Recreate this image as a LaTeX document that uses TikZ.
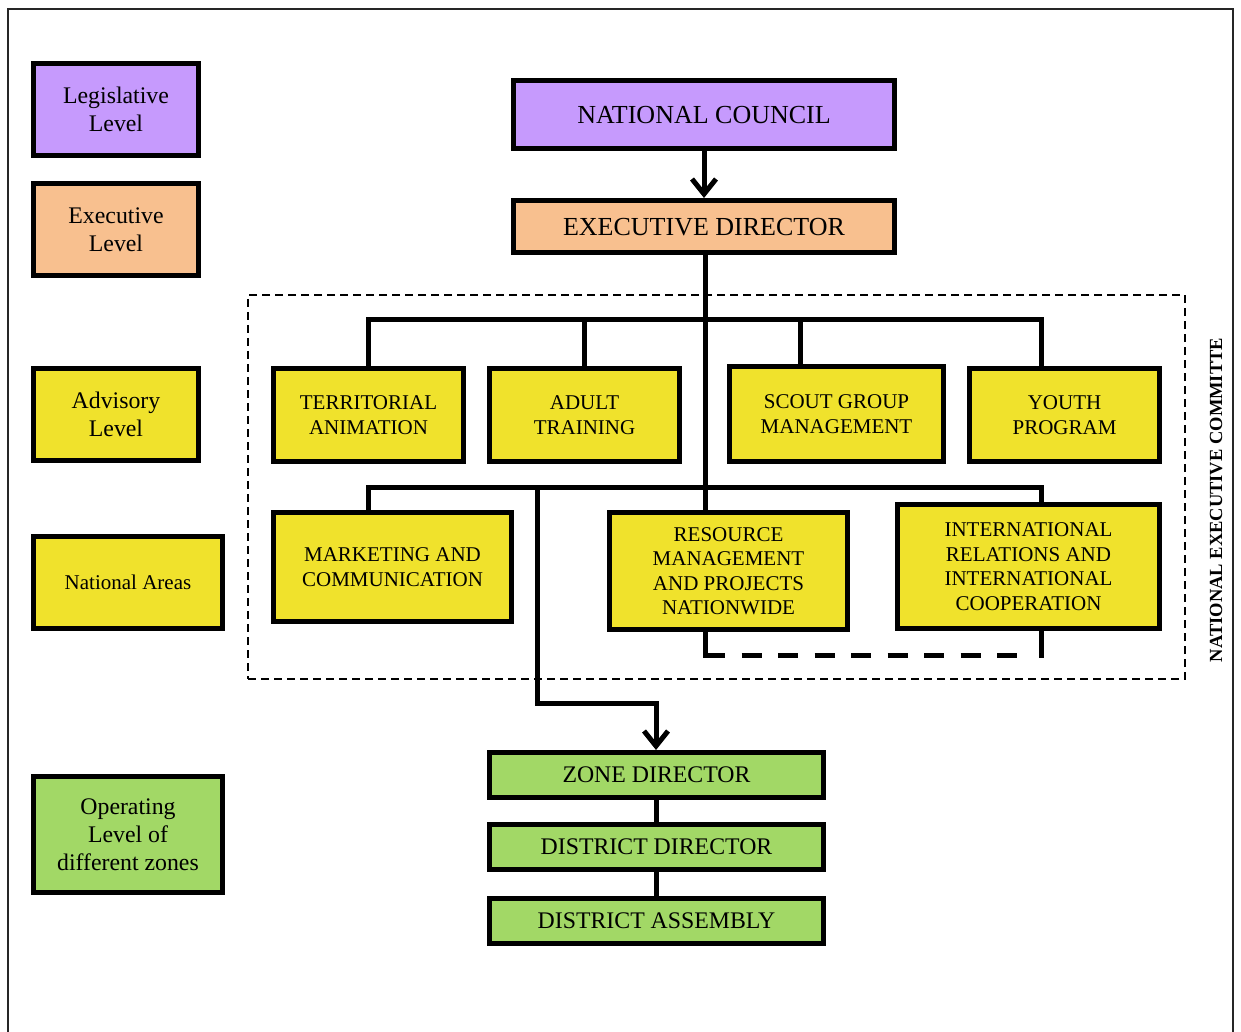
\documentclass[tikz,border=0pt]{standalone}
\usepackage{fontspec}
\setmainfont{Liberation Serif}
\usetikzlibrary{arrows.meta}
\definecolor{cpurple}{HTML}{C69AFD}
\definecolor{corange}{HTML}{F8C08F}
\definecolor{cyellow}{HTML}{F0E22C}
\definecolor{cgreen}{HTML}{A2D866}
\tikzset{
  box/.style={draw=black, line width=5pt, rectangle, align=center, inner sep=2pt, text=black, text depth=0pt},
  conn/.style={draw=black, line width=5pt},
  tipv/.style={-{Straight Barb[length=15pt,width=24pt,line width=5pt]}},
  fa/.style={font=\fontsize{26}{30}\selectfont},
  fb/.style={font=\fontsize{21}{24.5}\selectfont},
  fl/.style={font=\fontsize{23.8}{27.8}\selectfont},
  fz/.style={font=\fontsize{23.8}{28}\selectfont},
}
\begin{document}
\begin{tikzpicture}[x=1pt,y=-1pt]
\useasboundingbox (0,0) rectangle (1241,1032);
\fill[white] (0,0) rectangle (1241,1032);
% outer frame
\draw[line width=2pt, black!85] (8,1045) -- (8,9) -- (1233,9) -- (1233,1045);

% dashed committee area
\node[draw=black, line width=2pt, dash pattern=on 8pt off 5pt, minimum width=937, minimum height=384, inner sep=0pt] (area) at (716.5,487) {};
\node[rotate=90, font=\bfseries\fontsize{18.5}{20}\selectfont] (nec) at (1216,500) {NATIONAL EXECUTIVE COMMITTE};

% legend
\node[box, fl, fill=cpurple, minimum width=165, minimum height=92] (leg1) at (116,109.5) {Legislative\\Level};
\node[box, fl, fill=corange, minimum width=165, minimum height=92] (leg2) at (116,229.5) {Executive\\Level};
\node[box, fl, fill=cyellow, minimum width=165, minimum height=92] (leg3) at (116,414.5) {Advisory\\Level};
\node[box, fb, fill=cyellow, minimum width=189, minimum height=92] (leg4) at (128,582.5) {National Areas};
\node[box, fl, fill=cgreen, minimum width=189, minimum height=116] (leg5) at (128,834.5) {Operating\\Level of\\different zones};

% main boxes
\node[box, fa, fill=cpurple, minimum width=381, minimum height=68] (nc) at (704,114.5) {NATIONAL COUNCIL};
\node[box, fa, fill=corange, minimum width=381, minimum height=52] (ed) at (704,226.5) {EXECUTIVE DIRECTOR};

\node[box, fb, fill=cyellow, minimum width=190, minimum height=93] (terr) at (368.5,415) {TERRITORIAL\\ANIMATION};
\node[box, fb, fill=cyellow, minimum width=190, minimum height=93] (adult) at (584.5,415) {ADULT\\TRAINING};
\node[box, fb, fill=cyellow, minimum width=214, minimum height=95] (scout) at (836.5,414) {SCOUT GROUP\\MANAGEMENT};
\node[box, fb, fill=cyellow, minimum width=190, minimum height=93] (youth) at (1064.5,415) {YOUTH\\PROGRAM};

\node[box, fb, fill=cyellow, minimum width=238, minimum height=109] (mark) at (392.5,567) {MARKETING AND\\COMMUNICATION};
\node[box, fb, fill=cyellow, minimum width=238, minimum height=117] (res) at (728.5,571) {RESOURCE\\MANAGEMENT\\AND PROJECTS\\NATIONWIDE};
\node[box, fb, fill=cyellow, minimum width=262, minimum height=124] (intl) at (1028.5,566.5) {INTERNATIONAL\\RELATIONS AND\\INTERNATIONAL\\COOPERATION};

\node[box, fz, fill=cgreen, minimum width=334, minimum height=45] (zone) at (656.5,775) {ZONE DIRECTOR};
\node[box, fz, fill=cgreen, minimum width=334, minimum height=45] (dd) at (656.5,847) {DISTRICT DIRECTOR};
\node[box, fz, fill=cgreen, minimum width=334, minimum height=45] (da) at (656.5,921) {DISTRICT ASSEMBLY};

% coordinates for buses
\coordinate (t1) at (705,255);
\coordinate (b1L) at (368,319);
\coordinate (b1R) at (1041,319);
\coordinate (b1S) at (800,319);
\coordinate (b2L) at (368,487);
\coordinate (b2R) at (1041,487);
\coordinate (zt) at (537,487);
\coordinate (zk1) at (537,703);
\coordinate (zk2) at (656,703);
\coordinate (dk1) at (705,655);
\coordinate (dk2) at (1025,655);
\coordinate (dk3) at (1041,657.5);

% connectors
\draw[conn, tipv] (nc.south) -- (ed.north);
\draw[conn] (t1) -- (t1 |- res.north);
\draw[conn] (b1L |- terr.north) -- (b1L) -- (b1R) -- (b1R |- youth.north);
\draw[conn] (adult.north |- b1L) -- (adult.north);
\draw[conn] (b1S) -- (b1S |- scout.north);
\draw[conn] (b2L |- mark.north) -- (b2L) -- (b2R) -- (b2R |- intl.north);
\draw[conn, tipv] (zt) -- (zk1) -- (zk2) -- (zk2 |- zone.north);
\draw[conn] (dk1 |- res.south) -- ([yshift=-2.5pt]dk1);
\draw[conn, dash pattern=on 20pt off 16.5pt, dash phase=-2.5pt] ([xshift=-2.5pt]dk1) -- (dk2);
\draw[conn] (dk3 |- intl.south) -- (dk3);
\draw[conn] (zone.south) -- (dd.north);
\draw[conn] (dd.south) -- (da.north);
\end{tikzpicture}
\end{document}
